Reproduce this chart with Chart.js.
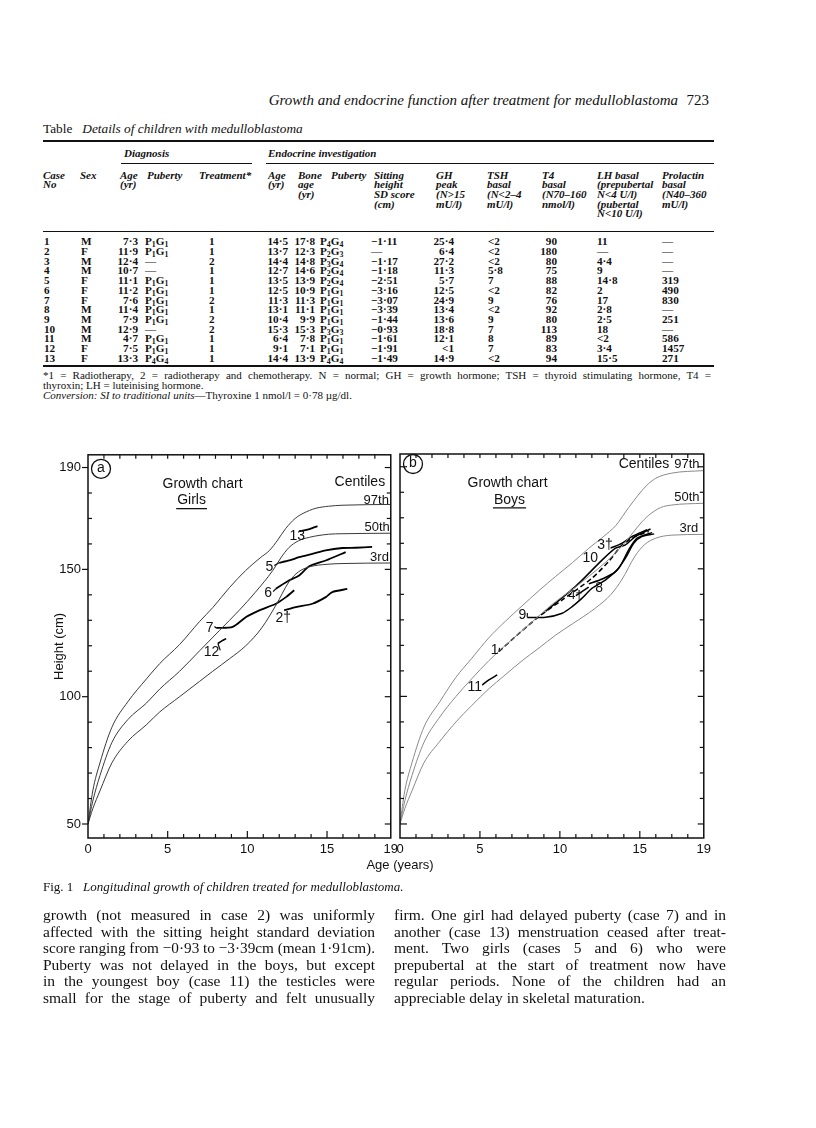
<!DOCTYPE html>
<html lang="en">
<head>
<meta charset="utf-8">
<title>Growth and endocrine function after treatment for medulloblastoma</title>
<script src="https://cdn.jsdelivr.net/npm/chart.js@4.4.1/dist/chart.umd.min.js"></script>
<style>
html,body{margin:0;padding:0;background:#fff;}
body{width:816px;height:1128px;position:relative;overflow:hidden;font-family:"Liberation Serif","Times New Roman",serif;color:#111;}
.t{position:absolute;white-space:nowrap;}
.rule{position:absolute;background:#111;}
canvas{position:absolute;}
.hd{font-weight:bold;font-style:italic;}
.tb{font-weight:bold;}
sub{font-size:70%;vertical-align:-0.25em;line-height:0;}
</style>
</head>
<body>
<canvas id="chartA" width="382" height="420" style="left:20px;top:440px"></canvas>
<canvas id="chartB" width="327" height="420" style="left:388px;top:440px"></canvas>
<script>
// ---------------- chart data ----------------
const xTickVals = [0, 5, 10, 15, 19];
const yTickVals = [50, 100, 150, 190];

// Girls centiles
const girlsAge97 = [0,0.3,0.75,1.5,2.5,3.67,4.5,5.75,7,7.83,8.9,9.9,10.8,11.4,11.9,12.4,13,13.5,14.3,15.1,16,19];
const girlsH97   = [50,63,74,88,98,107,113,120.5,129.5,135,143,149.6,154.5,157.5,161.5,166,170,172,174,174.8,175.2,175.5];
const girlsAge50 = [0,0.3,0.75,1.5,2.5,3.67,4.5,5.75,7,8.25,9.5,10.5,11.6,12.1,12.6,13.2,13.9,15.1,16,19];
const girlsH50   = [50,59,69,82,91,97.5,103,110,118,126,134,141,149.6,154.5,158.5,161.2,162.6,163.8,164,164.2];
const girlsAge3  = [0,0.3,0.75,1.5,2.5,3.67,4.5,5.75,7,7.83,8.9,9.9,10.9,11.8,12.6,13.2,13.9,15,16,19];
const girlsH3    = [50,56,63,74,82.5,89,94,100,106,110,115,120,127,136,145,149,151,152,152.3,152.5];

// Girls cases
const case13Age = [13.25,13.77,14.4];           const case13H = [165.0,165.6,167.0];
const case5Age  = [12.0,12.63,13.25,14.08,14.92,15.96,16.79,17.83];
const case5H    = [152.6,153.5,154.8,156.1,157.5,158.4,158.5,158.8];
const case6Age  = [11.79,12.63,13.25,13.88,14.92,16.17];
const case6H    = [142.4,145.7,147.6,151.2,153.5,156.8];
const case7Age  = [8.04,9.08,9.92,10.75,11.79,12.42,12.94];
const case7H    = [127.0,127.4,131.3,133.9,136.5,139.1,141.8];
const case2Age  = [12.31,13.04,14.08,14.92,15.33,16.27];
const case2H    = [133.9,135.2,136.5,139.1,141.1,142.3];
const case12Age = [8.15,8.4,8.67];              const case12H = [120.9,121.9,122.8];

// Boys centiles
const boysAge97 = [0,0.3,0.75,1.5,2.5,3.5,4.5,5.56,6.6,7.64,8.7,9.73,10.8,11.8,12.7,13.5,14.3,15.4,16,17,19];
const boysH97   = [50,63,74,88,98,107.5,115,123,129.5,135.5,141.5,147,152.5,158,162.5,167,174,182.5,185.5,187.5,188.5];
const boysAge50 = [0,0.3,0.75,1.5,2.44,3.5,4.5,5.56,6.5,7.5,8.5,9.5,10.8,11.8,12.85,13.6,14.3,15,15.56,16.3,17,19];
const boysH50   = [50,59,69,82,91.5,100,107,114,119.5,125,130.5,136,142,147,152.5,157,162,167.5,171,174,175,175.7];
const boysAge3  = [0,0.3,0.75,1.5,2.44,3.5,4.5,5.56,6.5,7.64,8.7,9.73,10.8,12.2,13.2,13.9,14.7,15.3,16,17,19];
const boysH3    = [50,56,63,74,82,90,96.5,103,108,114,119,124,128.5,134.5,140,146,155,159.5,162,163.2,163.5];

// Boys cases
const case1Age  = [6.19,7.23,8.69,10.15,12.0,13.06,13.9,14.73,15.56];
const case1H    = [117.6,123.5,131.3,137.8,146.3,152.9,159.4,162.7,164.6];
const case9Age  = [7.96,9.10,10.15,10.77,11.39,12.02,12.86,13.69,14.31,14.83,15.77];
const case9H    = [130.9,131.0,132.6,135.2,138.5,142.4,145.7,150.3,157.5,162.0,164.2];
const case10Age = [9.10,10.98,12.65,13.48,14.1,14.73,15.67];
const case10H   = [133.3,143.1,153.5,158.1,159.4,162.7,165.6];
const case8Age  = [11.81,12.65,13.48,14.1,14.63,15.15,15.9];
const case8H    = [144.1,146.0,148.9,154.2,160.1,162.7,163.7];
const case4Age  = [11.0,11.8];                  const case4H  = [139.5,142.8];
const case3Age  = [13.17,13.9,14.52,15.45];     const case3H  = [158.1,160.1,162.7,165.3];
const case11Age = [5.15,5.56,6.08];             const case11H = [104.5,106.5,108.4];

// ---------------- table data ----------------
const pg = (a,b) => `P<sub>${a}</sub>G<sub>${b}</sub>`;
const caseNo    = ['1','2','3','4','5','6','7','8','9','10','11','12','13'];
const sexCol    = ['M','F','M','M','F','F','F','M','M','M','M','F','F'];
const ageDx     = ['7·3','11·9','12·4','10·7','11·1','11·2','7·6','11·4','7·9','12·9','4·7','7·5','13·3'];
const pubDx     = [pg(1,1),pg(1,1),'—','—',pg(1,1),pg(1,1),pg(1,1),pg(1,1),pg(1,1),'—',pg(1,1),pg(1,1),pg(4,4)];
const treatment = ['1','1','2','1','1','1','2','1','2','2','1','1','1'];
const ageInv    = ['14·5','13·7','14·4','12·7','13·5','12·5','11·3','13·1','10·4','15·3','6·4','9·1','14·4'];
const boneAge   = ['17·8','12·3','14·8','14·6','13·9','10·9','11·3','11·1','9·9','15·3','7·8','7·1','13·9'];
const pubInv    = [pg(4,4),pg(2,3),pg(3,4),pg(2,4),pg(2,4),pg(1,1),pg(1,1),pg(1,1),pg(1,1),pg(3,3),pg(1,1),pg(1,1),pg(4,4)];
const sittingSD = ['−1·11','—','−1·17','−1·18','−2·51','−3·16','−3·07','−3·39','−1·44','−0·93','−1·61','−1·91','−1·49'];
const ghPeak    = ['25·4','6·4','27·2','11·3','5·7','12·5','24·9','13·4','13·6','18·8','12·1','&lt;1','14·9'];
const tshBasal  = ['&lt;2','&lt;2','&lt;2','5·8','7','&lt;2','9','&lt;2','9','7','8','7','&lt;2'];
const t4Basal   = ['90','180','80','75','88','82','76','92','80','113','89','83','94'];
const lhBasal   = ['11','—','4·4','9','14·8','2','17','2·8','2·5','18','&lt;2','3·4','15·5'];
const prolactin = ['—','—','—','—','319','490','830','—','251','—','586','1457','271'];

// ---------------- page text helpers ----------------
function put(html, x, yc, size, opts) {
  opts = opts || {};
  const d = document.createElement('div');
  d.className = 't' + (opts.cls ? ' ' + opts.cls : '');
  d.innerHTML = html;
  d.style.fontSize = size + 'px';
  d.style.lineHeight = Math.round(size * 1.2) + 'px';
  d.style.top = (yc - size * 0.68) + 'px';
  if (opts.align === 'right') d.style.right = (816 - x) + 'px';
  else if (opts.align === 'center') { d.style.left = x + 'px'; d.style.transform = 'translateX(-50%)'; }
  else d.style.left = x + 'px';
  if (opts.family) d.style.fontFamily = opts.family;
  document.body.appendChild(d);
  return d;
}
function fitLine(html, x, yc, w, size, justify, cls) {
  const d = put(html, x, yc, size, {cls: cls});
  const nat = d.getBoundingClientRect().width;
  if (nat > w) {
    d.style.transformOrigin = '0 50%';
    d.style.transform = 'scaleX(' + (w / nat) + ')';
  } else if (justify) {
    d.style.width = w + 'px';
    d.style.whiteSpace = 'normal';
    d.style.textAlign = 'justify';
    d.style.textAlignLast = 'justify';
  }
}
function rule(x1, x2, y, h) {
  const d = document.createElement('div');
  d.className = 'rule';
  d.style.left = x1 + 'px'; d.style.width = (x2 - x1) + 'px';
  d.style.top = (y - h / 2) + 'px'; d.style.height = h + 'px';
  document.body.appendChild(d);
}

// Running head
put('<i>Growth and endocrine function after treatment for medulloblastoma</i>', 678, 101, 15, {align:'right'});
put('723', 709, 101, 15, {align:'right'});

// Table title and rules
put('Table&nbsp;&nbsp; <i>Details of children with medulloblastoma</i>', 43, 130, 13.3);
rule(43, 714, 141, 2.5);
put('Diagnosis', 124, 154, 11, {cls:'hd'});
put('Endocrine investigation', 268, 154, 11, {cls:'hd'});
rule(121, 252, 163.5, 1);
rule(266, 714, 163.5, 1);

const headCols = [
  [43, ['Case','No']], [80, ['Sex']], [120, ['Age','(yr)']], [147, ['Puberty']],
  [199, ['Treatment*']], [268, ['Age','(yr)']], [298, ['Bone','age','(yr)']], [331, ['Puberty']],
  [374, ['Sitting','height','SD score','(cm)']], [436, ['GH','peak','(N&gt;15','mU/l)']],
  [487, ['TSH','basal','(N&lt;2–4','mU/l)']], [542, ['T4','basal','(N70–160','nmol/l)']],
  [597, ['LH basal','(prepubertal','N&lt;4 U/l)','(pubertal','N&lt;10 U/l)']],
  [662, ['Prolactin','basal','(N40–360','mU/l)']]
];
headCols.forEach(([x, lines]) => lines.forEach((s, k) => put(s, x, 176 + 9.7 * k, 11, {cls:'hd'})));
rule(43, 714, 231, 1);

const tableCols = [
  [caseNo, 44, 'left'], [sexCol, 81, 'left'], [ageDx, 138, 'right'], [pubDx, 145, 'left'],
  [treatment, 209, 'left'], [ageInv, 288, 'right'], [boneAge, 315, 'right'], [pubInv, 320, 'left'],
  [sittingSD, 371, 'left'], [ghPeak, 454, 'right'], [tshBasal, 488, 'left'], [t4Basal, 557, 'right'],
  [lhBasal, 597, 'left'], [prolactin, 662, 'left']
];
tableCols.forEach(([vals, x, al]) => vals.forEach((v, i) => put(v, x, 243 + 9.7 * i, 11.2, {cls:'tb', align:al})));
rule(43, 714, 365.5, 2);

fitLine('*1 = Radiotherapy, 2 = radiotherapy and chemotherapy. N = normal; GH = growth hormone; TSH = thyroid stimulating hormone, T4 =', 43, 376, 668, 11, true);
put('thyroxin; LH = luteinising hormone.', 43, 386, 11);
put('<i>Conversion: SI to traditional units</i>—Thyroxine 1 nmol/l = 0·78 µg/dl.', 43, 396, 11);

// Figure axis title and caption
put('Age (years)', 400, 866, 13, {align:'center', family:'"Liberation Sans", Arial, sans-serif'});
put('Fig. 1&nbsp;&nbsp; <i>Longitudinal growth of children treated for medulloblastoma.</i>', 43, 888, 13);

// Body text
const leftCol = [
  'growth (not measured in case 2) was uniformly',
  'affected with the sitting height standard deviation',
  'score ranging from −0·93 to −3·39cm (mean 1·91cm).',
  'Puberty was not delayed in the boys, but except',
  'in the youngest boy (case 11) the testicles were',
  'small for the stage of puberty and felt unusually'
];
const rightCol = [
  'firm. One girl had delayed puberty (case 7) and in',
  'another (case 13) menstruation ceased after treat-',
  'ment. Two girls (cases 5 and 6) who were',
  'prepubertal at the start of treatment now have',
  'regular periods. None of the children had an',
  'appreciable delay in skeletal maturation.'
];
leftCol.forEach((s, i) => fitLine(s, 43, 916 + 16.5 * i, 332, 15.5, true));
rightCol.forEach((s, i) => fitLine(s, 394, 916 + 16.5 * i, 332, 15.5, i < rightCol.length - 1));

// ---------------- charts ----------------
const SANS = '"Liberation Sans", Arial, sans-serif';
const toXY = (xs, ys) => xs.map((v, i) => ({x: v, y: ys[i]}));

const framePlugin = {
  id: 'frame',
  afterDraw(chart, args, opts) {
    const {ctx, chartArea: a, scales: {x, y}} = chart;
    const seg = (x1, y1, x2, y2) => { ctx.beginPath(); ctx.moveTo(x1, y1); ctx.lineTo(x2, y2); ctx.stroke(); };
    ctx.save();
    ctx.strokeStyle = '#111';
    ctx.lineWidth = 1.5;
    ctx.strokeRect(a.left, a.top, a.right - a.left, a.bottom - a.top);
    ctx.lineWidth = 1.2;
    for (let v = 1; v < 19; v++) {
      const px = x.getPixelForValue(v);
      seg(px, a.bottom, px, a.bottom - (v % 5 === 0 ? 7 : 4));
      seg(px, a.top, px, a.top + 4);
    }
    for (let v = 50; v <= 190; v += 10) {
      const py = y.getPixelForValue(v);
      const major = yTickVals.includes(v);
      if (opts.outer && major) seg(a.left - 6, py, a.left, py);
      else seg(a.left, py, a.left + (major ? 7 : 4), py);
      seg(a.right, py, a.right - (major ? 6 : 4), py);
    }
    // circled panel letter
    const cx = a.left + opts.circle[1], cy = a.top + opts.circle[2];
    ctx.lineWidth = 1.3;
    ctx.beginPath(); ctx.arc(cx, cy, 9.5, 0, Math.PI * 2); ctx.stroke();
    ctx.fillStyle = '#111';
    ctx.font = '14px ' + SANS; ctx.textAlign = 'center'; ctx.textBaseline = 'middle';
    ctx.fillText(opts.circle[0], cx, cy - 1);
    ctx.restore();
  }
};

const notesPlugin = {
  id: 'notes',
  afterDatasetsDraw(chart, args, opts) {
    const {ctx, scales: {x, y}} = chart;
    ctx.save();
    ctx.fillStyle = '#111'; ctx.strokeStyle = '#111';
    (opts.items || []).forEach(n => {
      const px = x.getPixelForValue(n.x), py = y.getPixelForValue(n.y);
      ctx.font = (n.size || 14) + 'px ' + SANS;
      ctx.textBaseline = 'middle';
      ctx.textAlign = n.align || 'center';
      ctx.fillText(n.text, px, py);
      const w = ctx.measureText(n.text).width;
      const left = n.align === 'right' ? px - w : (n.align === 'left' ? px : px - w / 2);
      if (n.underline) {
        ctx.lineWidth = 1.3;
        ctx.beginPath(); ctx.moveTo(left - 1, py + 8); ctx.lineTo(left + w + 1, py + 8); ctx.stroke();
      }
      if (n.lead !== undefined) {
        const pt = chart.getDatasetMeta(n.lead).data[0];
        ctx.lineWidth = 1.2;
        ctx.beginPath(); ctx.moveTo(left + w + 1, py - 2); ctx.lineTo(pt.x, pt.y); ctx.stroke();
      }
    });
    ctx.restore();
  }
};

function centile(label, xs, ys, color) {
  return {label, data: toXY(xs, ys), borderColor: color, borderWidth: 1, pointRadius: 0,
          cubicInterpolationMode: 'monotone', fill: false};
}
function growth(label, xs, ys, width, dash) {
  return {label, data: toXY(xs, ys), borderColor: '#000', borderWidth: width, pointRadius: 0,
          tension: 0.25, fill: false, borderDash: dash || []};
}

function makeChart(id, datasets, notes, cfg) {
  return new Chart(document.getElementById(id), {
    type: 'line',
    data: {datasets},
    options: {
      responsive: false, animation: false, devicePixelRatio: 1,
      layout: {padding: {top: 14, right: 10, left: 0, bottom: 0}},
      plugins: {legend: {display: false}, tooltip: {enabled: false},
                notes: {items: notes}, frame: {outer: cfg.showY, circle: cfg.circle}},
      scales: {
        x: {type: 'linear', min: 0, max: 19,
            afterBuildTicks: s => { s.ticks = xTickVals.map(v => ({value: v})); },
            afterFit: s => { s.height = 22; },
            grid: {display: false, drawTicks: false}, border: {display: false},
            ticks: {padding: 4, color: '#111', font: {family: SANS, size: 13}, autoSkip: false, maxRotation: 0}},
        y: {type: 'linear', min: 44.5, max: 195,
            afterBuildTicks: s => { s.ticks = yTickVals.map(v => ({value: v})); },
            afterFit: s => { s.width = cfg.yWidth; },
            grid: {display: false, drawTicks: false}, border: {display: false},
            ticks: {display: cfg.showY, padding: 7, color: '#111', font: {family: SANS, size: 13}},
            title: {display: cfg.showY, text: 'Height (cm)', color: '#111',
                    font: {family: SANS, size: 13}, padding: {top: 32, bottom: 0}}}
      }
    },
    plugins: [framePlugin, notesPlugin]
  });
}

const CA = '#3a3a3a', CB = '#8a8a8a';
const datasetsA = [
  centile('97th', girlsAge97, girlsH97, CA),
  centile('50th', girlsAge50, girlsH50, CA),
  centile('3rd', girlsAge3, girlsH3, CA),
  growth('13', case13Age, case13H, 1.8),
  growth('5', case5Age, case5H, 1.8),
  growth('6', case6Age, case6H, 1.8),
  growth('7', case7Age, case7H, 1.8),
  growth('2', case2Age, case2H, 1.8),
  growth('12', case12Age, case12H, 1.6)
];
const notesA = [
  {text: 'Growth chart', x: 7.19, y: 183.6},
  {text: 'Girls', x: 6.5, y: 177.0, underline: true},
  {text: 'Centiles', x: 17.06, y: 184.4},
  {text: '97th', x: 18.88, y: 177.0, size: 13, align: 'right'},
  {text: '50th', x: 18.94, y: 166.4, size: 13, align: 'right'},
  {text: '3rd', x: 18.88, y: 154.6, size: 13, align: 'right'},
  {text: '13', x: 13.13, y: 162.9},
  {text: '5', x: 11.38, y: 150.7, lead: 4},
  {text: '6', x: 11.31, y: 140.5, lead: 5},
  {text: '7', x: 7.63, y: 126.8, lead: 6},
  {text: '2†', x: 12.25, y: 130.7},
  {text: '12', x: 7.75, y: 117.4, lead: 8}
];
makeChart('chartA', datasetsA, notesA, {showY: true, yWidth: 68, circle: ['a', 13, 14]});

const datasetsB = [
  centile('97th', boysAge97, boysH97, CB),
  centile('50th', boysAge50, boysH50, CB),
  centile('3rd', boysAge3, boysH3, CB),
  growth('1', case1Age, case1H, 1.5, [5, 3]),
  growth('9', case9Age, case9H, 1.5),
  growth('10', case10Age, case10H, 1.5),
  growth('8', case8Age, case8H, 1.5),
  growth('4', case4Age, case4H, 1.5),
  growth('3', case3Age, case3H, 1.5),
  growth('11', case11Age, case11H, 1.5)
];
const notesB = [
  {text: 'Centiles', x: 15.26, y: 191.1},
  {text: '97th', x: 17.94, y: 191.1, size: 13},
  {text: 'Growth chart', x: 6.73, y: 183.6},
  {text: 'Boys', x: 6.85, y: 177.0, underline: true},
  {text: '50th', x: 17.94, y: 178.1, size: 13},
  {text: '3rd', x: 18.07, y: 166.0, size: 13},
  {text: '3†', x: 12.83, y: 159.3},
  {text: '10', x: 11.9, y: 154.2},
  {text: '4†', x: 10.97, y: 139.7, size: 13},
  {text: '8', x: 12.46, y: 142.5},
  {text: '9', x: 7.66, y: 131.9, lead: 4},
  {text: '1', x: 5.92, y: 118.2, lead: 3},
  {text: '11', x: 4.67, y: 103.7, lead: 9}
];
makeChart('chartB', datasetsB, notesB, {showY: false, yWidth: 12, circle: ['b', 13, 10]});
</script>
</body>
</html>
